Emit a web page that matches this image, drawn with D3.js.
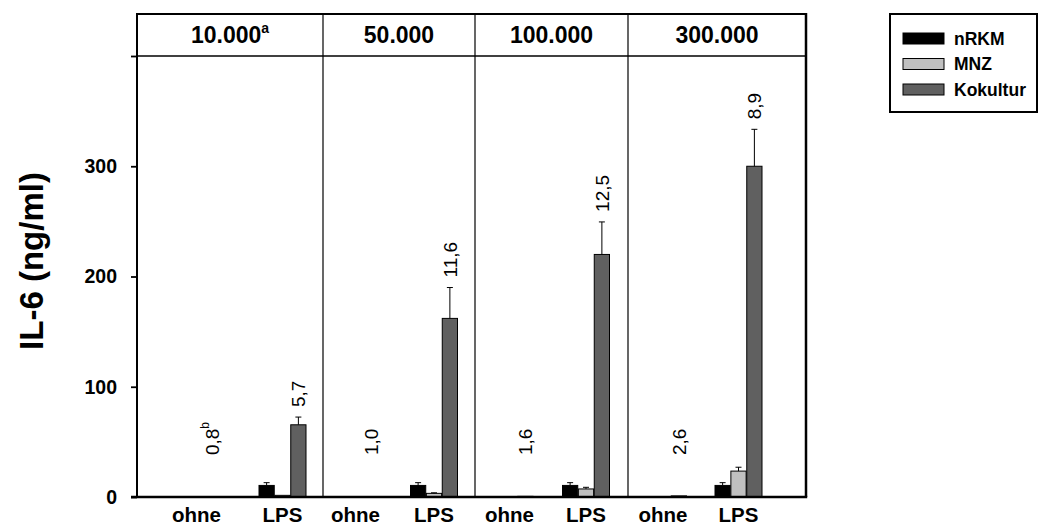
<!DOCTYPE html>
<html>
<head>
<meta charset="utf-8">
<script src="https://cdn.jsdelivr.net/npm/d3@7"></script>
<style>
  html, body { margin: 0; padding: 0; background: #fff; }
  svg { display: block; font-family: "Liberation Sans", Arial, sans-serif; }
</style>
</head>
<body>
<svg id="chart" width="1040" height="527"></svg>
<script>
// ---- data ----
const panels = ["10.000", "50.000", "100.000", "300.000"];
const panelSup = ["a", "", "", ""];
const groups = ["ohne", "LPS"];
const series = ["nRKM", "MNZ", "Kokultur"];
const seriesColors = ["#000000", "#c0c0c0", "#606060"];

// IL-6 means (ng/ml) per panel, [ohne, LPS]
const nRKM     = [[0, 10.5], [0, 10.5], [0, 10.5], [0, 10.5]];
const MNZ      = [[0, 1.5],  [0, 3.3],  [0, 7.3],  [0, 23.5]];
const Kokultur = [[0, 65.5], [0, 162],  [0.6, 220], [1, 300]];
// standard deviations (upper error bars)
const nRKMErr     = [[0, 2.5], [0, 2.5], [0, 2.5], [0, 2.5]];
const MNZErr      = [[0, 0],   [0, 0.5], [0, 1.5], [0, 3.5]];
const KokulturErr = [[0, 7],   [0, 28],  [0, 29.5], [0, 33.5]];
// fold-change annotations above the co-culture bars
const foldLabels = [["0,8", "5,7"], ["1,0", "11,6"], ["1,6", "12,5"], ["2,6", "8,9"]];
const foldSup = [["b", ""], ["", ""], ["", ""], ["", ""]];

const yTicks = [0, 100, 200, 300, 400];
const yTickLabels = ["0", "100", "200", "300", ""];
const yTitle = "IL-6 (ng/ml)";

// ---- layout ----
const L = { left: 137, right: 806, top: 14, head: 56, bottom: 497 };
const panelEdges = [137, 323, 475, 628, 806];
const groupOffsets = [[59.5, 145.5], [32.5, 111], [34.5, 111], [35, 110.5]];
const ohneLabelAt = 38;

const svg = d3.select("#chart");
const y = d3.scaleLinear().domain([0, 400]).range([L.bottom, L.head]);
const sb = d3.scaleBand().domain(series).range([-23.5, 23.5]).paddingInner(0.04);
const color = d3.scaleOrdinal().domain(series).range(seriesColors);

const values = { nRKM, MNZ, Kokultur };
const errors = { nRKM: nRKMErr, MNZ: MNZErr, Kokultur: KokulturErr };

// per-panel group position scales
const gx = panels.map((p, i) => d3.scalePoint().domain(groups)
  .range([panelEdges[i] + groupOffsets[i][0], panelEdges[i] + groupOffsets[i][1]]));

// flatten bar records
const bars = [];
panels.forEach((p, pi) => groups.forEach((g, gi) => series.forEach(s => {
  bars.push({ pi, g, s, v: values[s][pi][gi], e: errors[s][pi][gi] });
})));

const plot = svg.append("g");

// bars
plot.selectAll("rect.bar").data(bars.filter(d => d.v > 0)).join("rect")
  .attr("class", "bar")
  .attr("x", d => gx[d.pi](d.g) + sb(d.s))
  .attr("width", sb.bandwidth())
  .attr("y", d => y(d.v))
  .attr("height", d => y(0) - y(d.v))
  .attr("fill", d => color(d.s))
  .attr("stroke", "#000")
  .attr("stroke-width", 1);

// error bars
const eb = bars.filter(d => d.e > 0);
const ebx = d => gx[d.pi](d.g) + sb(d.s) + sb.bandwidth() / 2;
plot.selectAll("line.err").data(eb).join("line")
  .attr("class", "err")
  .attr("x1", ebx).attr("x2", ebx)
  .attr("y1", d => y(d.v)).attr("y2", d => y(d.v + d.e))
  .attr("stroke", "#000").attr("stroke-width", 1);
plot.selectAll("line.cap").data(eb).join("line")
  .attr("class", "cap")
  .attr("x1", d => ebx(d) - 3).attr("x2", d => ebx(d) + 3)
  .attr("y1", d => y(d.v + d.e)).attr("y2", d => y(d.v + d.e))
  .attr("stroke", "#000").attr("stroke-width", 1);

// fold-change labels (rotated)
const labels = [];
panels.forEach((p, pi) => groups.forEach((g, gi) => {
  const v = Kokultur[pi][gi], e = KokulturErr[pi][gi];
  labels.push({
    x: gx[pi](g) + sb("Kokultur") + sb.bandwidth() / 2,
    yv: gi === 0 ? y(ohneLabelAt) : y(v + e) - 10,
    t: foldLabels[pi][gi], sup: foldSup[pi][gi]
  });
}));
const lt = plot.selectAll("text.fold").data(labels).join("text")
  .attr("class", "fold")
  .attr("transform", d => `translate(${d.x},${d.yv}) rotate(-90)`)
  .attr("dy", "0.35em")
  .attr("font-size", 19)
  .attr("fill", "#000");
lt.append("tspan").text(d => d.t);
lt.filter(d => d.sup).append("tspan")
  .attr("font-size", 12).attr("dy", "-0.8em").text(d => d.sup);

// panel dividers
svg.selectAll("line.div").data(panelEdges.slice(1, -1)).join("line")
  .attr("class", "div")
  .attr("x1", d => d).attr("x2", d => d)
  .attr("y1", L.top).attr("y2", L.bottom)
  .attr("stroke", "#000").attr("stroke-width", 1.2);

// frame
svg.append("line").attr("x1", L.left).attr("x2", L.right).attr("y1", L.top).attr("y2", L.top)
  .attr("stroke", "#000").attr("stroke-width", 1.8);
svg.append("line").attr("x1", L.left).attr("x2", L.right).attr("y1", L.head).attr("y2", L.head)
  .attr("stroke", "#000").attr("stroke-width", 1.5);
svg.append("line").attr("x1", L.right).attr("x2", L.right).attr("y1", L.top - 0.9).attr("y2", L.bottom)
  .attr("stroke", "#000").attr("stroke-width", 2.5);

// y axis
const yAxis = svg.append("g")
  .attr("transform", `translate(${L.left},0)`)
  .call(d3.axisLeft(y).tickValues(yTicks).tickSize(6).tickPadding(14)
    .tickFormat((d, i) => yTickLabels[i]));
yAxis.select(".domain").remove();
yAxis.selectAll(".tick line").attr("stroke-width", 1.8);
yAxis.selectAll(".tick text")
  .attr("font-family", "Liberation Sans, Arial, sans-serif")
  .attr("font-size", 19.5).attr("font-weight", "bold").attr("fill", "#000");
svg.append("line").attr("x1", L.left).attr("x2", L.left).attr("y1", L.top - 0.9).attr("y2", L.bottom)
  .attr("stroke", "#000").attr("stroke-width", 2);
// x baseline
svg.append("line").attr("x1", L.left - 6).attr("x2", L.right + 1.2).attr("y1", L.bottom).attr("y2", L.bottom)
  .attr("stroke", "#000").attr("stroke-width", 2.6);

// y title
svg.append("text")
  .attr("transform", `translate(31,261) rotate(-90)`)
  .attr("text-anchor", "middle")
  .attr("dy", "0.35em")
  .attr("font-size", 33).attr("font-weight", "bold").attr("fill", "#000")
  .text(yTitle);

// panel headers
const ht = svg.selectAll("text.head").data(panels).join("text")
  .attr("class", "head")
  .attr("x", (d, i) => (panelEdges[i] + panelEdges[i + 1]) / 2)
  .attr("y", 43)
  .attr("text-anchor", "middle")
  .attr("font-size", 23).attr("font-weight", "bold").attr("fill", "#000");
ht.append("tspan").text(d => d);
ht.filter((d, i) => panelSup[i]).append("tspan")
  .attr("font-size", 14).attr("dy", "-0.7em").text((d, i) => panelSup[i]);

// category labels
const cats = [];
panels.forEach((p, pi) => groups.forEach(g => cats.push({ pi, g })));
svg.selectAll("text.cat").data(cats).join("text")
  .attr("class", "cat")
  .attr("x", d => gx[d.pi](d.g))
  .attr("y", 522)
  .attr("text-anchor", "middle")
  .attr("font-size", 20.5).attr("font-weight", "bold").attr("fill", "#000")
  .text(d => d.g);

// legend
const lg = svg.append("g").attr("transform", "translate(890,14)");
lg.append("rect").attr("width", 147).attr("height", 98)
  .attr("fill", "#fff").attr("stroke", "#000").attr("stroke-width", 2);
const li = lg.selectAll("g.item").data(series).join("g")
  .attr("class", "item")
  .attr("transform", (d, i) => `translate(13,${19 + i * 25.5})`);
li.append("rect").attr("width", 41).attr("height", 11)
  .attr("fill", d => color(d)).attr("stroke", "#000").attr("stroke-width", 1);
li.append("text").attr("x", 51).attr("y", 5.5).attr("dy", "0.35em")
  .attr("font-size", 17.5).attr("font-weight", "bold").attr("fill", "#000")
  .text(d => d);
</script>
</body>
</html>
